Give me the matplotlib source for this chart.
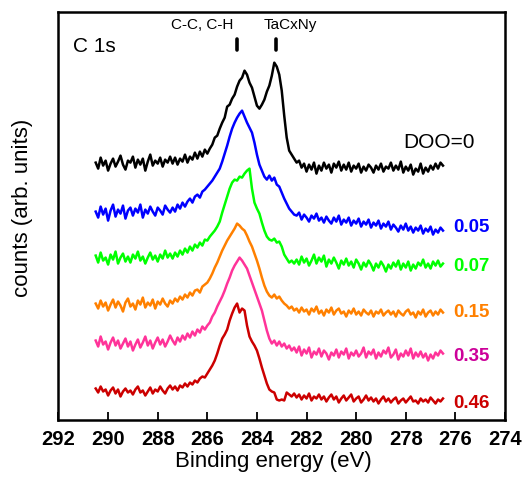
import numpy as np
import matplotlib
matplotlib.use("Agg")
import matplotlib.pyplot as plt
from matplotlib import font_manager
from matplotlib.transforms import blended_transform_factory

names = {f.name for f in font_manager.fontManager.ttflist}
base = "Liberation Sans" if "Liberation Sans" in names else "DejaVu Sans"
plt.rcParams['font.family'] = [base, 'DejaVu Sans']

# Binding energy grid (eV), 0.1 eV steps from 290.5 to 276.5
energy = np.round(np.arange(290.5, 276.45, -0.1), 1)

# Stacked C 1s spectra, counts (arb. units)
doo_000 = [
    258, 252, 263, 255, 260, 250, 257, 262, 254, 259, 265, 256, 251, 260, 258, 264,
    253, 261, 256, 262, 250, 259, 266, 255, 260, 257, 263, 254, 261, 258, 264,
    257, 263, 256, 262, 259, 266, 258, 264, 261, 268, 262, 269, 264, 271, 267,
    272, 276, 283, 285, 292, 298, 303, 314, 316, 322, 326, 334, 340, 343, 350, 346,
    338, 333, 324, 315, 312, 316, 321, 329, 335, 345, 358, 354, 346, 330, 305, 283,
    270, 266, 262,
    258, 260, 253, 257, 249, 256, 251, 258, 247, 255,
    250, 258, 252, 256, 248, 257, 253, 259, 250, 256,
    251, 258, 249, 255, 252, 257, 248, 254, 250, 256,
    253, 248, 255, 251, 257, 249, 254, 252, 258, 250,
    255, 251, 259, 248, 254, 250, 256, 246, 252, 249,
    257, 247, 253, 249, 255, 251, 257, 252, 258, 255,
]
doo_005 = [
    209, 203, 214, 206, 212, 200, 210, 216, 204, 211, 207, 215, 202, 210, 213, 205,
    212, 208, 216, 203, 211, 207, 214, 209, 205, 213, 210, 206, 215, 211, 208,
    213, 209, 216, 212, 218, 214, 219, 222, 218, 224, 226, 223, 229, 231, 234,
    237, 240, 244, 248, 252, 259, 267, 275, 284, 292, 298, 303, 307, 310, 304, 298,
    293, 288, 278, 266, 256, 250, 244, 241, 245, 240, 243, 236, 234, 228, 222, 217,
    212, 209, 206,
    205, 208, 201, 206, 203, 199, 205, 202, 207, 200,
    203, 198, 204, 200, 197, 203, 199, 205, 196, 201,
    198, 203, 195, 200, 197, 202, 194, 199, 196, 201,
    193, 198, 195, 200, 192, 197, 194, 199, 191, 196,
    193, 189, 195, 191, 197, 190, 194, 188, 193, 190,
    195, 187, 192, 189, 194, 186, 191, 188, 193, 190,
]
doo_007 = [
    165, 158, 168, 160, 163, 156, 166, 161, 169, 157, 163, 167, 159, 164, 158, 166,
    162, 169, 160, 164, 157, 163, 168, 161, 165, 159, 166, 162, 170, 163, 167,
    162, 168, 164, 170, 166, 172, 168, 174, 170, 176, 173, 178, 175, 181, 180,
    184, 187, 190, 194, 199, 208, 216, 224, 232, 238, 241, 240, 244, 243, 247, 250,
    252, 232, 218, 212, 207, 198, 190, 184, 181, 180, 182, 178, 179, 174, 166, 162,
    158, 160, 157,
    161, 156, 164, 158, 162, 155, 160, 166, 157, 163,
    159, 165, 154, 161, 157, 163, 158, 152, 160, 156,
    162, 155, 159, 153, 161, 157, 151, 158, 154, 160,
    156, 150, 157, 153, 159, 155, 149, 156, 152, 158,
    154, 160, 151, 157, 153, 159, 150, 156, 152, 158,
    155, 161, 153, 157, 152, 159, 155, 160, 154, 157,
]
doo_015 = [
    117, 112, 120, 114, 118, 110, 116, 121, 113, 119, 115, 109, 118, 122, 114, 117,
    111, 120, 116, 123, 113, 118, 115, 121, 112, 119, 116, 122, 117, 114, 120,
    117, 122, 119, 124, 121, 126, 123, 128, 125, 130, 131, 128, 134, 136, 138,
    142, 147, 153, 158, 164, 170, 175, 180, 184, 188, 192, 197, 195, 192, 190, 185,
    179, 174, 167, 160, 152, 143, 135, 129, 125, 123, 126, 122, 124, 120, 117, 115,
    112, 114, 110,
    112, 108, 113, 109, 111, 106, 112, 109, 114, 107,
    110, 105, 111, 108, 113, 106, 110, 112, 107, 109,
    104, 110, 107, 112, 106, 109, 105, 111, 108, 106,
    110, 104, 109, 107, 111, 105, 108, 110, 106, 109,
    104, 110, 107, 105, 109, 111, 106, 108, 103, 109,
    106, 111, 104, 108, 110, 105, 109, 106, 111, 108,
]
doo_035 = [
    80, 74, 84, 76, 79, 71, 78, 83, 75, 80, 72, 77, 82, 74, 79, 70,
    76, 81, 73, 78, 84, 75, 80, 72, 78, 83, 76, 81, 74, 79, 85,
    80, 76, 83, 79, 85, 81, 87, 83, 89, 85, 91, 88, 94, 91, 95,
    98, 104, 108, 114, 119, 124, 130, 137, 143, 150, 155, 159, 163, 160, 156, 152,
    145, 138, 131, 124, 117, 110, 100, 90, 82, 77, 80, 75, 79, 74, 77, 72,
    75, 70, 73,
    68, 74, 65, 71, 67, 73, 63, 69, 66, 72,
    64, 70, 67, 61, 68, 65, 71, 63, 69, 66,
    72, 62, 68, 65, 70, 64, 67, 73, 63, 69,
    66, 71, 62, 68, 64, 70, 67, 73, 63, 66,
    71, 61, 67, 64, 70, 65, 72, 62, 68, 64,
    69, 63, 67, 60, 66, 62, 68, 65, 70, 67,
]
doo_046 = [
    32, 28, 34, 29, 31, 25, 30, 33, 27, 31, 24, 29, 32, 28, 30, 26,
    31, 34, 28, 30, 25, 29, 33, 27, 31, 29, 34, 30, 27, 32, 35,
    31, 34, 30, 35, 33, 37, 34, 38, 36, 40, 38, 42, 44, 43, 47,
    51, 55, 60, 67, 75, 82, 86, 91, 100, 107, 113, 117, 108, 112, 110, 95,
    84, 79, 75, 70, 62, 53, 45, 37, 31, 29, 28, 21, 20, 21, 20, 28,
    26, 24, 27,
    23, 26, 21, 25, 22, 27, 20, 24, 22, 26,
    21, 24, 19, 23, 26, 21, 24, 18, 22, 25,
    20, 23, 26, 19, 22, 24, 18, 21, 25, 20,
    23, 19, 22, 17, 21, 24, 19, 22, 18, 21,
    23, 17, 20, 22, 18, 21, 24, 19, 20, 17,
    22, 19, 21, 18, 23, 20, 17, 21, 19, 22,
]

series = [doo_000, doo_005, doo_007, doo_015, doo_035, doo_046]
series_labels = ["DOO=0", "0.05", "0.07", "0.15", "0.35", "0.46"]
line_colors = ["#000000", "#0000ff", "#00ff00", "#ff8000", "#ff3399", "#cc0000"]
label_colors = ["#000000", "#0000ff", "#00ff00", "#ff8000", "#cc0099", "#cc0000"]

peak_names = ["C-C, C-H", "TaCxNy"]
peak_energies = [284.8, 283.25]

xticks = [292, 290, 288, 286, 284, 282, 280, 278, 276, 274]

fig = plt.figure(figsize=(5.25, 4.91), dpi=100)
ax = fig.add_axes([0.1114, 0.1436, 0.8505, 0.8326])

for vals, col in zip(series, line_colors):
    ax.plot(energy, vals, color=col, lw=1.8)

ax.set_xlim(292, 274)
ax.set_ylim(0, 409)
ax.set_xticks(xticks)
ax.set_xticklabels([str(t) for t in xticks], fontweight='bold')
ax.set_yticks([])
ax.tick_params(axis='x', direction='in', length=6, width=1.3, labelsize=14.5, pad=7)
for s in ax.spines.values():
    s.set_linewidth(1.8)

# series labels (layout positions in axes fraction)
label_x = [0.7716, 0.8835, 0.8835, 0.8835, 0.8835, 0.8835]
label_y = [0.6666, 0.461, 0.366, 0.253, 0.1455, 0.0306]
label_sz = [15, 13.5, 13.5, 13.5, 13.5, 13.5]
label_wt = ['normal', 'bold', 'bold', 'bold', 'bold', 'bold']
for txt, col, lx, ly, sz, wt in zip(series_labels, label_colors, label_x, label_y,
                                    label_sz, label_wt):
    ax.text(lx, ly, txt, color=col, fontsize=sz, fontweight=wt,
            transform=ax.transAxes, ha='left', va='baseline')

ax.text(0.0325, 0.9014, "C 1s", fontsize=15, transform=ax.transAxes,
        ha='left', va='baseline')

trans = blended_transform_factory(ax.transData, ax.transAxes)
for e in peak_energies:
    ax.plot([e, e], [0.906, 0.932], transform=trans, color='k', lw=2.6,
            solid_capstyle='round')
for name, px in zip(peak_names, [0.3214, 0.5185]):
    ax.text(px, 0.957, name, fontsize=11,
            transform=ax.transAxes, ha='center', va='baseline')

ax.set_xlabel("Binding energy (eV)", fontsize=16)
ax.xaxis.label.set_verticalalignment('baseline')
ax.xaxis.set_label_coords(0.4815, -0.113)
ax.set_ylabel("counts (arb. units)", fontsize=16)
ax.yaxis.set_label_coords(-0.056, 0.521)

fig.savefig("out.png", dpi=100)
